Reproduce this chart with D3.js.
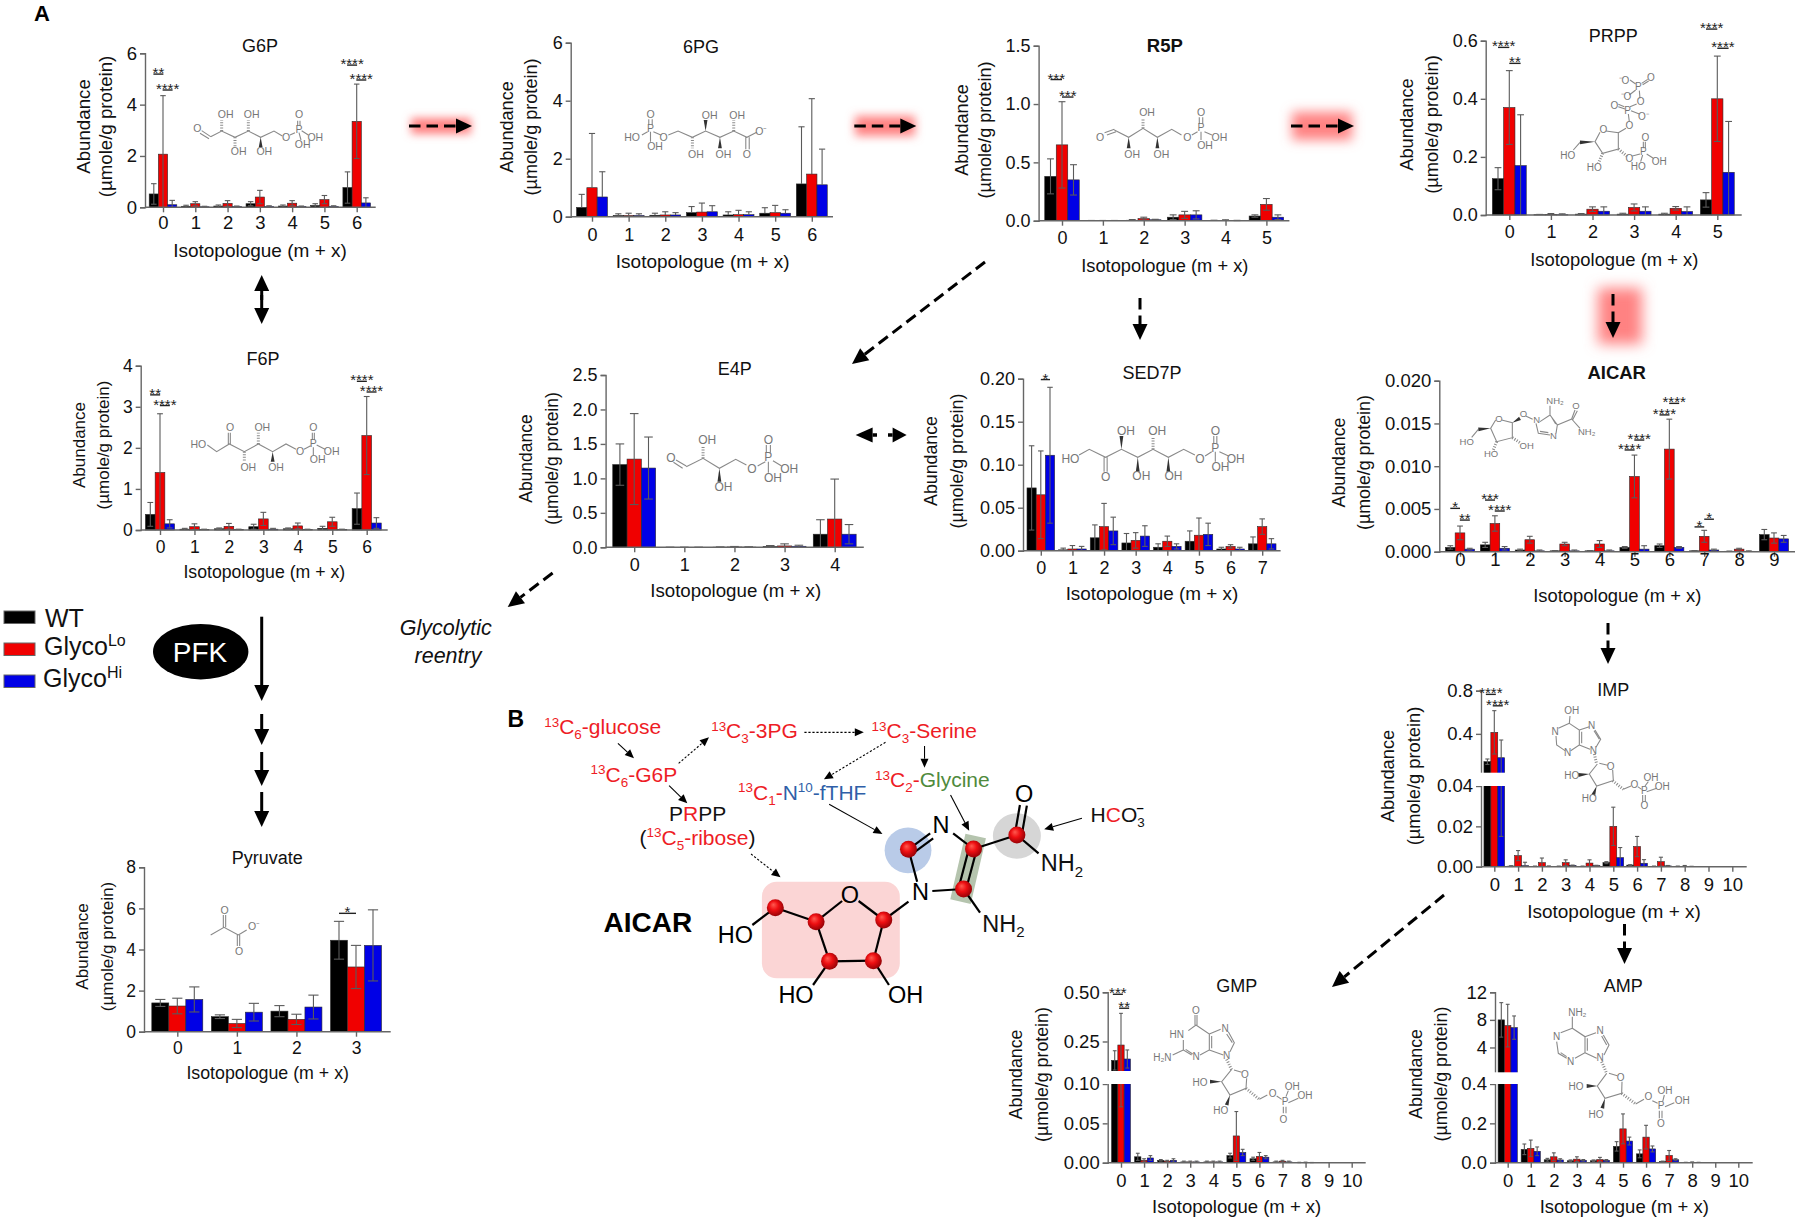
<!DOCTYPE html>
<html><head><meta charset="utf-8">
<script src="https://cdn.jsdelivr.net/npm/d3@7"></script>
<style>html,body{margin:0;padding:0;background:#fff}svg{display:block;font-family:"Liberation Sans",Arial,sans-serif}</style>
</head><body><script>
// ---------- data: value read per isotopologue, and the top of its error bar ----------
const seriesNames=["WT","GlycoLo","GlycoHi"], seriesColors=["#000000","#f00000","#0000e6"];

const g6pCats=["0","1","2","3","4","5","6"], g6pTicks=["0","2","4","6"];
const g6pWT=[.52,.04,.05,.14,.05,.07,.77], g6pLo=[2.07,.14,.15,.4,.16,.3,3.35], g6pHi=[.1,.02,.03,.03,.03,.03,.17];
const g6pWTe=[.92,.08,.09,.22,.09,.14,1.38], g6pLoe=[4.35,.22,.26,.66,.26,.46,4.8], g6pHie=[.27,.04,.05,.06,.05,.06,.37];
const g6pSig=[[0,"wr",5.19,"**"],[0,"rb",4.57,"****"],[6,"wr",5.54,"****"],[6,"rb",4.96,"****"]];

const pg6Cats=["0","1","2","3","4","5","6"], pg6Ticks=["0","2","4","6"];
const pg6WT=[.32,.04,.05,.14,.06,.12,1.13], pg6Lo=[1,.04,.06,.16,.07,.14,1.47], pg6Hi=[.68,.04,.06,.17,.07,.12,1.1];
const pg6WTe=[.77,.1,.12,.35,.17,.31,3.1], pg6Loe=[2.87,.12,.17,.47,.22,.39,4.07], pg6Hie=[1.55,.1,.14,.38,.17,.24,2.33];

const r5pCats=["0","1","2","3","4","5"], r5pTicks=["0.0","0.5","1.0","1.5"];
const r5pWT=[.38,0,.004,.03,.002,.04], r5pLo=[.65,0,.018,.05,.003,.14], r5pHi=[.35,0,.008,.05,.002,.03];
const r5pWTe=[.53,.002,.01,.05,.004,.05], r5pLoe=[1.02,.002,.03,.08,.008,.19], r5pHie=[.48,.002,.012,.085,.003,.05];
const r5pSig=[[0,"wr",1.21,"***"],[0,"rb",1.06,"***"]];

const prppCats=["0","1","2","3","4","5"], prppTicks=["0.0","0.2","0.4","0.6"];
const prppWT=[.125,.001,.003,.003,.003,.052], prppLo=[.37,.002,.02,.026,.023,.4], prppHi=[.17,.001,.013,.013,.012,.147];
const prppWTe=[.163,.002,.005,.006,.006,.077], prppLoe=[.497,.005,.028,.038,.029,.547], prppHie=[.345,.004,.028,.028,.028,.322];
const prppSig=[[0,"wr",.577,"****"],[0,"rb",.522,"**"],[5,"wr",.64,"****"],[5,"rb",.574,"****"]];

const f6pCats=["0","1","2","3","4","5","6"], f6pTicks=["0","1","2","3","4"];
const f6pWT=[.38,.02,.03,.08,.03,.04,.52], f6pLo=[1.4,.08,.09,.27,.1,.2,2.3], f6pHi=[.15,.01,.01,.02,.01,.01,.17];
const f6pWTe=[.67,.04,.05,.14,.05,.09,.9], f6pLoe=[2.83,.15,.16,.43,.17,.31,3.25], f6pHie=[.25,.02,.02,.04,.02,.02,.3];
const f6pSig=[[0,"wr",3.29,"**"],[0,"rb",3.03,"****"],[6,"wr",3.62,"****"],[6,"rb",3.36,"****"]];

const e4pCats=["0","1","2","3","4"], e4pTicks=["0.0","0.5","1.0","1.5","2.0","2.5"];
const e4pWT=[1.2,0,.002,.012,.19], e4pLo=[1.28,0,.005,.02,.41], e4pHi=[1.15,0,.003,.015,.19];
const e4pWTe=[1.5,.002,.006,.025,.4], e4pLoe=[1.94,.002,.012,.05,.99], e4pHie=[1.6,.002,.008,.03,.33];

const sedCats=["0","1","2","3","4","5","6","7"], sedTicks=["0.00","0.05","0.10","0.15","0.20"];
const sedWT=[.073,.001,.015,.009,.004,.011,.002,.008], sedLo=[.065,.002,.028,.012,.011,.018,.005,.028], sedHi=[.111,.002,.023,.017,.005,.019,.002,.008];
const sedWTe=[.122,.003,.03,.02,.008,.023,.004,.016], sedLoe=[.116,.006,.055,.021,.017,.038,.007,.037], sedHie=[.19,.005,.039,.029,.008,.032,.004,.014];
const sedSig=[[0,"rb",.199,"*"]];

const aicCats=["0","1","2","3","4","5","6","7","8","9"], aicTicks=["0.000","0.005","0.010","0.015","0.020"];
const aicWT=[.0005,.0008,.0002,.0001,.0001,.0005,.0007,.0001,.00005,.002], aicLo=[.0022,.0033,.0014,.0009,.0009,.0088,.012,.0018,.0003,.0016], aicHi=[.0003,.0004,.0001,.0001,.0001,.0003,.0005,.0002,.00005,.0015];
const aicWTe=[.0007,.0011,.0003,.0001,.0001,.0006,.0009,.0001,.00005,.0026], aicLoe=[.003,.0042,.0018,.0011,.0013,.0113,.0155,.0025,.0004,.0022], aicHie=[.0004,.0006,.0002,.0002,.0002,.0007,.0006,.0003,.0001,.0019];
const aicSig=[[0,"wr",.00507,"*"],[0,"rb",.0037,"**"],[1,"wr",.00604,"***"],[1,"rb",.00476,"****"],[5,"wr",.0119,"****"],[5,"rb",.01306,"****"],[6,"wr",.016,"****"],[6,"rb",.01735,"****"],[7,"wr",.0029,"*"],[7,"rb",.0038,"*"]];

const impCats=["0","1","2","3","4","5","6","7","8","9","10"], impTicks=["0.00","0.02","0.04","0.4","0.8"];
const impWT=[.142,.0003,.0002,.0002,.0002,.002,.0008,.0002,.0002,0,0], impLo=[.414,.0055,.002,.002,.0018,.02,.01,.0025,.0002,0,0], impHi=[.179,.0005,.0002,.0006,.0005,.0045,.0017,.0004,.0001,0,0];
const impWTe=[.167,.0005,.0003,.0003,.0003,.0025,.001,.0003,.0003,0,0], impLoe=[.615,.008,.0043,.0034,.0034,.0295,.015,.0047,.0006,0,0], impHie=[.343,.0022,.0004,.0008,.0007,.0095,.0035,.0006,.0002,0,0];
const impSig=[[0,"wr",.766,"****"],[0,"rb",.66,"****"]];

const gmpCats=["0","1","2","3","4","5","6","7","8","9","10"], gmpTicks=["0.00","0.05","0.10","0.25","0.50"];
const gmpWT=[.154,.0075,.003,.001,.001,.009,.005,.001,.0003,0,0], gmpLo=[.232,.003,.002,.001,.001,.034,.008,.002,.0004,0,0], gmpHi=[.161,.006,.003,.001,.001,.013,.007,.001,.0002,0,0];
const gmpWTe=[.203,.012,.004,.002,.002,.012,.007,.002,.0005,0,0], gmpLoe=[.393,.005,.003,.002,.002,.065,.013,.003,.0007,0,0], gmpHie=[.207,.009,.005,.002,.002,.017,.009,.002,.0003,0,0];
const gmpSig=[[0,"wr",.49,"***"],[0,"rb",.419,"**"]];

const ampCats=["0","1","2","3","4","5","6","7","8","9","10"], ampTicks=["0.0","0.2","0.4","4","8","12"];
const ampWT=[8,.068,.015,.01,.01,.083,.045,.006,.001,0,0], ampLo=[7.17,.073,.03,.018,.016,.172,.13,.037,.002,0,0], ampHi=[6.88,.058,.014,.012,.012,.11,.07,.015,.001,0,0];
const ampWTe=[10.5,.095,.022,.014,.014,.107,.065,.008,.002,0,0], ampLoe=[10.26,.115,.05,.03,.027,.248,.19,.062,.004,0,0], ampHie=[8.57,.08,.02,.016,.016,.13,.085,.02,.002,0,0];

const pyrCats=["0","1","2","3"], pyrTicks=["0","2","4","6","8"];
const pyrWT=[1.4,.73,1,4.45], pyrLo=[1.25,.4,.6,3.15], pyrHi=[1.57,.95,1.2,4.2];
const pyrWTe=[1.57,.82,1.27,5.37], pyrLoe=[1.63,.6,.85,4.2], pyrHie=[2.18,1.38,1.78,5.93];
const pyrSig=[[3,"wr",5.76,"*"]];

// ---------- layout ----------
const charts=[
 {t:"G6P",c:g6pCats,tk:g6pTicks,v:[g6pWT,g6pLo,g6pHi],e:[g6pWTe,g6pLoe,g6pHie],s:g6pSig,top:6,ax:145,yT:53.3,y0:207.3,xE:375.7,c0:163,cN:356.7,bw:9.2,tx:260,ty:52,lx:[90,111.7],ly:126.5,lf:18.7,xx:260,xy:256.7,xf:19,tb:229,tf:18.5},
 {t:"6PG",c:pg6Cats,tk:pg6Ticks,v:[pg6WT,pg6Lo,pg6Hi],e:[pg6WTe,pg6Loe,pg6Hie],noLow:true,top:6,ax:570.7,yT:42.7,y0:216.7,xE:833,c0:592,cN:811.8,bw:10.3,tx:701,ty:53.3,lx:[513.3,537.4],ly:127,lf:18.1,xx:702.7,xy:267.7,xf:19,tb:240.7,tf:18},
 {t:"R5P",bold:true,c:r5pCats,tk:r5pTicks,v:[r5pWT,r5pLo,r5pHi],e:[r5pWTe,r5pLoe,r5pHie],s:r5pSig,top:1.5,ax:1038.6,yT:45.7,y0:220.7,xE:1289.4,c0:1062,cN:1266.4,bw:11.5,tx:1164.8,ty:51.7,lx:[968,991],ly:130,lf:18.1,xx:1164.8,xy:271.7,xf:18.3,tb:244.3,tf:18},
 {t:"PRPP",c:prppCats,tk:prppTicks,v:[prppWT,prppLo,prppHi],e:[prppWTe,prppLoe,prppHie],s:prppSig,top:.6,ax:1485.7,yT:40.7,y0:215,xE:1741.7,c0:1509.3,cN:1717.3,bw:11.3,tx:1613.3,ty:42.3,lx:[1413.3,1438.3],ly:124.5,lf:18.3,xx:1614.3,xy:266,xf:18.4,tb:238.3,tf:18},
 {t:"F6P",c:f6pCats,tk:f6pTicks,v:[f6pWT,f6pLo,f6pHi],e:[f6pWTe,f6pLoe,f6pHie],s:f6pSig,top:4,ax:140.7,yT:365.7,y0:530,xE:387.7,c0:160,cN:366.7,bw:9.7,tx:263,ty:365,lx:[85,109.3],ly:445,lf:17,xx:264.3,xy:578.3,xf:17.7,tb:552.7,tf:17.5},
 {t:"E4P",c:e4pCats,tk:e4pTicks,v:[e4pWT,e4pLo,e4pHi],e:[e4pWTe,e4pLoe,e4pHie],top:2.5,ax:605.6,yT:375,y0:547.3,xE:863.8,c0:634.2,cN:834.7,bw:14.3,tx:734.7,ty:375,lx:[531.6,557.7],ly:458.5,lf:17.5,xx:735.7,xy:596.7,xf:18.7,tb:570.7,tf:18},
 {t:"SED7P",c:sedCats,tk:sedTicks,v:[sedWT,sedLo,sedHi],e:[sedWTe,sedLoe,sedHie],s:sedSig,top:.2,ax:1023,yT:378.7,y0:550.7,xE:1280.6,c0:1040.8,cN:1262.2,bw:9.2,tx:1152,ty:379.3,lx:[937.2,963.3],ly:461,lf:17.8,xx:1152,xy:600,xf:18.9,tb:574,tf:18},
 {t:"AICAR",bold:true,c:aicCats,tk:aicTicks,v:[aicWT,aicLo,aicHi],e:[aicWTe,aicLoe,aicHie],s:aicSig,top:.02,ax:1439.3,yT:380.7,y0:551.7,xE:1795,c0:1460,cN:1774,bw:9.7,tx:1616.7,ty:379.3,lx:[1345,1370],ly:462.5,lf:17.8,xx:1617.3,xy:601.7,xf:18.4,tb:566,tf:18.5},
 {t:"IMP",c:impCats,tk:impTicks,v:[impWT,impLo,impHi],e:[impWTe,impLoe,impHie],s:impSig,brk:.04,top:.8,ax:1481,yT:690.7,yA:786,yB:772.7,y0:866.7,xE:1746.7,c0:1494.3,cN:1732.3,bw:6.9,tx:1613.3,ty:696,lx:[1394,1420],ly:776,lf:18.3,xx:1614,xy:918.3,xf:19,tb:891,tf:18.5},
 {t:"GMP",c:gmpCats,tk:gmpTicks,v:[gmpWT,gmpLo,gmpHi],e:[gmpWTe,gmpLoe,gmpHie],s:gmpSig,brk:.1,top:.5,ax:1107.7,yT:992.3,yA:1084,yB:1071,y0:1162.7,xE:1365.7,c0:1121,cN:1351.7,bw:6.3,tx:1236.7,ty:992,lx:[1021.7,1047.7],ly:1074.5,lf:17.8,xx:1236.7,xy:1213,xf:18.5,tb:1186.7,tf:18.5},
 {t:"AMP",c:ampCats,tk:ampTicks,v:[ampWT,ampLo,ampHi],e:[ampWTe,ampLoe,ampHie],brk:.4,top:12,ax:1495,yT:992.3,yA:1084,yB:1072.3,y0:1162.7,xE:1752.7,c0:1507.7,cN:1738.3,bw:6.4,tx:1623.3,ty:991.7,lx:[1421.7,1447.3],ly:1074,lf:17.8,xx:1624.3,xy:1213,xf:18.5,tb:1186.7,tf:18.5},
 {t:"Pyruvate",c:pyrCats,tk:pyrTicks,v:[pyrWT,pyrLo,pyrHi],e:[pyrWTe,pyrLoe,pyrHie],s:pyrSig,top:8,ax:144,yT:867.3,y0:1031.7,xE:390.7,c0:177.3,cN:356,bw:17,tx:267.3,ty:864.3,lx:[88.3,113.3],ly:946.5,lf:17.1,xx:267.7,xy:1079.3,xf:17.8,tb:1054,tf:17.5}
];

const svg=d3.select("body").append("svg").attr("width",1800).attr("height",1217).attr("viewBox","0 0 1800 1217");
const defs=svg.append("defs");
[4,5,6,7].forEach(s=>defs.append("filter").attr("id","blur"+s).attr("x","-50%").attr("y","-80%").attr("width","200%").attr("height","260%").append("feGaussianBlur").attr("stdDeviation",s));
const rg=defs.append("radialGradient").attr("id","atom").attr("cx",".45").attr("cy",".45").attr("r",".6").attr("fx",".38").attr("fy",".32");
[["0%","#ff5a50"],["45%","#ee0f12"],["100%","#8c0005"]].forEach(d=>rg.append("stop").attr("offset",d[0]).attr("stop-color",d[1]));

function text(x,y,s,o={}){return svg.append("text").attr("x",x).attr("y",y).attr("font-size",o.size||18).attr("text-anchor",o.anchor||"start").attr("fill",o.fill||"#111").attr("font-weight",o.weight||null).attr("font-style",o.fstyle||null).text(s);}
function rich(x,y,size,segs,anchor){
  const t=svg.append("text").attr("x",x).attr("y",y).attr("font-size",size).attr("text-anchor",anchor||"start");
  let prev=0;
  segs.forEach(([s,c,m])=>{const off=m==="sup"?-.36:m==="sub"?.24:0;
    t.append("tspan").attr("dy",(off-prev)*size).attr("fill",c||"#111").attr("font-size",m?size*.64:size).text(s);prev=off;});
  return t;
}
function arrow(x1,y1,x2,y2,o={}){
  const L=o.L||16,W=o.W||15,a=Math.atan2(y2-y1,x2-x1),cx=Math.cos(a),sy=Math.sin(a),bx=x2-cx*L,by=y2-sy*L;
  svg.append("line").attr("x1",x1).attr("y1",y1).attr("x2",bx).attr("y2",by).attr("stroke","#000").attr("stroke-width",o.w||3).attr("stroke-dasharray",o.dash||null);
  svg.append("polygon").attr("fill","#000").attr("points",[[x2,y2],[bx-sy*W/2,by+cx*W/2],[bx+sy*W/2,by-cx*W/2]].map(p=>p.join(",")).join(" "));
}
function glow(x,y,w,h,s){svg.append("rect").attr("x",x).attr("y",y).attr("width",w).attr("height",h).attr("fill","#ff8282").attr("filter","url(#blur"+s+")");}

// ---------- glows behind the pathway arrows ----------
glow(411,118,60,16,4);glow(855,116,60,20,5);glow(1292,112,60,28,6);glow(1598,288,44,56,7);

// ---------- charts ----------
charts.forEach(c=>{
  const x=d3.scalePoint().domain(c.c).range([c.c0,c.cN]);
  const y=c.brk?d3.scaleLinear().domain([0,c.brk,c.brk*1.0001,c.top]).range([c.y0,c.yA,c.yB,c.yT])
               :d3.scaleLinear().domain([0,c.top]).range([c.y0,c.yT]);
  const g=svg.append("g");
  // bars
  c.v.forEach((vals,si)=>{
    g.append("g").selectAll("rect").data(vals).join("rect")
     .attr("x",(d,i)=>x(c.c[i])+(si-1.5)*c.bw).attr("width",c.bw)
     .attr("y",d=>y(d)).attr("height",d=>Math.max(0,c.y0-y(d)))
     .attr("fill",seriesColors[si]).attr("stroke","#2a2a2a").attr("stroke-width",.6);
  });
  // error bars
  c.e.forEach((tops,si)=>{
    const eg=g.append("g").attr("stroke","#5a5a5a").attr("stroke-width",1.1).attr("fill","none");
    tops.forEach((hi,i)=>{
      const v=c.v[si][i]; if(hi<=0) return;
      const cx=x(c.c[i])+(si-1)*c.bw, cap=c.bw*.3, lo=Math.max(0,2*v-hi);
      eg.append("line").attr("x1",cx).attr("x2",cx).attr("y1",y(hi)).attr("y2",c.noLow?y(v):y(lo));
      eg.append("line").attr("x1",cx-cap).attr("x2",cx+cap).attr("y1",y(hi)).attr("y2",y(hi));
      if(!c.noLow&&lo>0) eg.append("line").attr("x1",cx-cap).attr("x2",cx+cap).attr("y1",y(lo)).attr("y2",y(lo));
    });
  });
  // axes
  const ya=g.append("g").attr("transform",`translate(${c.ax},0)`)
    .call(d3.axisLeft(y).tickValues(c.tk.map(Number)).tickFormat((d,i)=>c.tk[i]).tickSize(5).tickPadding(3));
  const xa=g.append("g").attr("transform",`translate(0,${c.y0})`)
    .call(d3.axisBottom(x).tickSize(5));
  xa.select(".domain").attr("d",`M${c.ax},0H${c.xE}`);
  [ya,xa].forEach(a=>{a.attr("font-family",null).attr("font-size",null);
    a.selectAll("path,line").attr("stroke","#666").attr("stroke-width",1.4);
    a.selectAll("text").attr("font-size",c.tf).attr("fill","#111");});
  xa.selectAll("text").attr("y",c.tb-c.y0).attr("dy",0);
  // white axis break
  if(c.brk) g.append("rect").attr("x",c.ax-5).attr("width",c.c0+1.5*c.bw+1-(c.ax-5)).attr("y",y(c.brk*1.0001)).attr("height",y(c.brk)-y(c.brk*1.0001)).attr("fill","#fff");
  // significance
  (c.s||[]).forEach(([ci,kind,val,stars])=>{
    const cx=x(c.c[ci]), a=kind==="wr"?cx-c.bw:cx, b=kind==="wr"?cx:cx+c.bw, ly=y(val), w=Math.max(b-a,stars.length>1?10:7.5);
    const m=(a+b)/2;
    g.append("line").attr("x1",m-w/2).attr("x2",m+w/2).attr("y1",ly).attr("y2",ly).attr("stroke","#222").attr("stroke-width",1.4);
    g.append("text").attr("x",m).attr("y",ly+4).attr("text-anchor","middle").attr("font-size",15).attr("fill","#222").text(stars);
  });
  // labels
  text(c.tx,c.ty,c.t,{size:c.bold?18.5:18,anchor:"middle",weight:c.bold?"bold":null});
  text(c.xx,c.xy,"Isotopologue (m + x)",{size:c.xf,anchor:"middle"});
  text(0,0,"Abundance",{size:c.lf,anchor:"middle"}).attr("transform",`translate(${c.lx[0]},${c.ly}) rotate(-90)`);
  text(0,0,"(µmole/g protein)",{size:c.lf,anchor:"middle"}).attr("transform",`translate(${c.lx[1]},${c.ly}) rotate(-90)`);
});

// ---------- skeletal structures drawn in grey ----------
function struct(s){
  const X=v=>s.ox+v*s.kx, Y=v=>s.oy+v*s.ky, col="#8a8a8a", g=svg.append("g");
  let d="",cx0=0;
  for(const m of s.p.matchAll(/([MLV])\s*([\d.]+)(?:\s+([\d.]+))?/g)){
    if(m[1]==="V"){d+="L"+cx0+" "+Y(+m[2]);}
    else{cx0=X(+m[2]);d+=m[1]+cx0+" "+Y(+m[3]);}
  }
  g.append("path").attr("d",d).attr("fill","none").attr("stroke",col).attr("stroke-width",1.1);
  (s.h||[]).forEach(([a,b,c,e])=>g.append("line").attr("x1",X(a)).attr("y1",Y(b)).attr("x2",X(c)).attr("y2",Y(e)).attr("stroke",col).attr("stroke-width",3).attr("stroke-dasharray","1 1.6"));
  (s.w||[]).forEach(([a,b,c,e])=>{const x1=X(a),y1=Y(b),x2=X(c),y2=Y(e),t=Math.atan2(y2-y1,x2-x1),nx=-Math.sin(t)*1.9,ny=Math.cos(t)*1.9;
    g.append("polygon").attr("points",`${x1},${y1} ${x2+nx},${y2+ny} ${x2-nx},${y2-ny}`).attr("fill","#333");});
  s.l.forEach(([a,b,t])=>g.append("text").attr("x",X(a)).attr("y",Y(b)).attr("dy",".36em").attr("text-anchor","middle").attr("font-size",s.f).attr("fill","#777").text(t));
}
const k3=1/3,k17=1/1.742,k19=1/1.96;
const structures=[
 {ox:0,oy:0,kx:k3,ky:k3,f:10.5,p:"M605 392 L632 410 M600 400 L627 416 M632 410 L665 393 L705 412 L745 393 L782 412 L822 393 L847 408 M870 405 L885 398 M893 362 V378 M900 362 V378 M905 392 L925 405 M897 398 L903 420",
  h:[[665,393,665,360],[705,412,705,442],[745,393,745,360]],w:[[782,412,782,442]],l:[[592,385,"O"],[677,344,"OH"],[755,344,"OH"],[716,455,"OH"],[793,455,"OH"],[858,412,"O"],[897,388,"P"],[897,344,"O"],[946,412,"OH"],[908,432,"OH"]]},
 {ox:480,oy:0,kx:k17,ky:k3,f:10.5,p:"M282 405 L292 395 M302 395 L315 405 M294 358 V375 M300 358 V375 M297 395 V425 M328 405 L345 393 L370 412 L393 393 L418 412 L442 393 L465 412 L482 397 M463 412 V448 M469 412 V448",
  h:[[370,412,370,445],[442,393,442,360]],w:[[393,393,393,360],[418,412,418,445]],l:[[265,413,"HO"],[320,413,"O"],[297,385,"P"],[297,343,"O"],[305,440,"OH"],[400,345,"OH"],[448,345,"OH"],[376,462,"OH"],[424,462,"OH"],[465,462,"O"],[490,393,"O⁻"]]},
 {ox:480,oy:0,kx:k17,ky:k3,f:10.5,p:"M1088 398 L1105 388 M1092 405 L1108 395 M1105 390 L1130 412 L1155 385 L1180 412 L1205 388 L1222 405 M1240 405 L1250 395 M1253 352 V372 M1259 352 V372 M1262 395 L1275 405 M1256 395 V420",
  h:[[1155,385,1155,355]],w:[[1130,412,1130,445],[1180,412,1180,445]],l:[[1080,413,"O"],[1162,338,"OH"],[1136,462,"OH"],[1187,462,"OH"],[1232,413,"O"],[1256,382,"P"],[1256,337,"O"],[1288,413,"OH"],[1263,437,"OH"]]},
 {ox:1370,oy:0,kx:k3,ky:k3,f:10,p:"M708 393 L745 398 L745 447 L698 460 L675 425 L690 397 M745 398 L768 385 M778 365 L775 342 M780 320 L800 312 M783 332 L808 342 M745 320 L765 327 M745 313 L763 320 M810 295 L808 272 M778 285 L797 270 M780 240 L797 252 M815 250 L833 238 M818 254 L836 243 M787 468 L810 462 M820 425 V445 M826 425 V445 M830 462 L850 475 M818 465 L812 485 M630 427 L610 450",
  h:[[745,447,770,468],[698,460,685,490]],w:[[675,425,630,427]],l:[[762,240,"⁻O"],[843,232,"O"],[805,260,"P"],[768,288,"⁻O"],[812,305,"O"],[733,315,"O"],[773,330,"P"],[820,348,"O⁻"],[778,377,"O"],[700,388,"O"],[593,465,"HO"],[673,503,"HO"],[778,475,"O"],[820,455,"P"],[826,412,"O"],[805,500,"HO"],[868,483,"OH"]]},
 {ox:0,oy:330,kx:k3,ky:k3,f:10.5,p:"M622 345 L650 365 L688 342 L733 365 L775 342 L818 365 L858 342 L888 358 M685 342 V308 M691 342 V308 M912 358 L932 347 M937 308 V330 M943 308 V330 M950 345 L975 358 M940 352 V375",
  h:[[733,365,733,395],[775,342,775,308]],w:[[818,365,818,395]],l:[[595,342,"HO"],[690,292,"O"],[787,292,"OH"],[745,412,"OH"],[828,412,"OH"],[900,365,"O"],[940,340,"P"],[940,292,"O"],[995,365,"OH"],[953,388,"OH"]]},
 {ox:500,oy:340,kx:k19,ky:k3,f:12,p:"M345 360 L365 378 M340 367 L358 385 M365 380 L398 355 L430 385 L462 358 L483 375 M505 378 L520 365 M522 315 V338 M530 315 V338 M535 362 L552 378 M526 365 V398",
  h:[[398,355,398,318]],w:[[430,385,430,425]],l:[[335,352,"O"],[406,300,"OH"],[438,440,"OH"],[494,385,"O"],[526,350,"P"],[526,300,"O"],[567,387,"OH"],[535,412,"OH"]]},
 {ox:500,oy:340,kx:k19,ky:k3,f:12,p:"M1135 345 L1155 328 L1187 352 L1218 328 L1250 352 L1280 328 L1310 352 L1340 328 L1362 345 M1184 352 V395 M1190 352 V395 M1382 348 L1395 335 M1399 288 V310 M1405 288 V310 M1410 335 L1428 348 M1402 335 V365",
  h:[[1280,328,1280,290]],w:[[1218,328,1218,288],[1250,352,1250,395],[1310,352,1310,395]],l:[[1118,356,"HO"],[1187,410,"O"],[1227,272,"OH"],[1288,272,"OH"],[1257,408,"OH"],[1320,408,"OH"],[1372,356,"O"],[1402,322,"P"],[1402,272,"O"],[1442,356,"OH"],[1412,380,"OH"]]},
 {ox:1320,oy:340,kx:k3,ky:k3,f:9.5,p:"M545 240 L577 248 L577 293 L530 305 L512 265 L527 240 M475 268 L455 292 M617 228 L638 238 M660 245 L690 225 L712 255 L708 280 M690 285 L655 280 L648 250 M690 225 V197 M712 255 L755 237 L765 210 M758 239 L772 212 M755 237 L780 265 M695 232 L707 252 M660 274 L685 278",
  h:[[577,293,600,308],[530,305,520,330]],w:[[577,248,600,235],[512,265,475,268]],l:[[705,183,"NH₂"],[768,198,"O"],[800,275,"NH₂"],[650,240,"N"],[700,288,"N"],[610,222,"O"],[537,235,"O"],[440,305,"HO"],[620,317,"OH"],[513,342,"HO"]]},
 {ox:1340,oy:660,kx:k3,ky:k3,f:10,p:"M688 190 L690 168 M688 190 L718 210 L718 255 L692 272 M675 272 L650 255 L648 228 M655 205 L688 190 M718 210 L748 200 M765 210 L782 238 L768 262 M750 268 L718 255 M725 215 V250 M778 238 L762 212 M778 310 L803 316 M818 330 L820 362 M818 362 L770 378 L748 342 L772 312 M850 388 L873 378 M893 380 L905 388 M915 378 L925 365 M920 395 L950 385 M908 405 V425 M916 405 V425",
  h:[[763,282,770,312],[818,362,850,388]],w:[[748,342,715,345],[770,378,760,405]],l:[[695,152,"OH"],[645,215,"N"],[683,278,"N"],[755,197,"N"],[760,270,"N"],[812,320,"O"],[695,345,"HO"],[748,415,"HO"],[883,373,"O"],[933,353,"OH"],[967,378,"OH"],[913,392,"P"],[913,437,"O"]]},
 {ox:980,oy:960,kx:k3,ky:k3,f:10,p:"M645 165 V195 M651 165 V195 M648 195 L688 222 L688 270 L660 285 M635 285 L610 270 L610 240 M625 212 L648 195 M610 270 L578 285 M688 222 L722 208 M745 215 L763 248 L750 275 M730 285 L688 270 M695 228 V265 M757 248 L740 222 M617 268 L638 282 M762 330 L785 337 M800 355 L798 385 L750 405 L725 365 L755 328 M838 418 L862 405 M890 408 L905 418 M918 410 L925 392 M925 428 L955 415 M910 440 V460 M918 440 V460",
  h:[[740,298,755,330],[798,385,838,418]],w:[[725,365,690,365],[750,405,740,435]],l:[[648,150,"O"],[590,222,"HN"],[648,290,"N"],[547,292,"H₂N"],[735,205,"N"],[740,285,"N"],[795,342,"O"],[660,367,"HO"],[722,450,"HO"],[878,400,"O"],[937,378,"OH"],[975,407,"OH"],[915,425,"P"],[910,477,"O"]]},
 {ox:1390,oy:960,kx:k3,ky:k3,f:10,p:"M547 170 V205 M547 205 L585 230 L585 278 L555 295 M530 295 L505 280 L500 245 M512 218 L547 205 M585 230 L618 218 M640 225 L657 255 L642 285 M620 295 L585 278 M592 235 V272 M650 255 L635 228 M512 278 L530 290 M657 340 L682 347 M696 365 L695 400 L645 415 L622 378 L650 340 M737 432 L762 418 M787 422 L803 430 M818 425 L823 405 M825 440 L853 428 M808 452 V475 M816 452 V475",
  h:[[635,305,650,340],[695,400,737,432]],w:[[622,378,590,378],[645,415,637,445]],l:[[562,157,"NH₂"],[500,228,"N"],[542,303,"N"],[630,212,"N"],[630,292,"N"],[692,352,"O"],[558,378,"HO"],[618,463,"HO"],[775,410,"O"],[825,390,"OH"],[877,420,"OH"],[813,437,"P"],[813,490,"O"]]},
 {ox:50,oy:840,kx:k3,ky:k3,f:10.5,p:"M482 285 L522 262 L565 285 M520 262 V225 M527 262 V225 M565 285 L590 270 M562 285 V318 M569 285 V318",
  l:[[524,210,"O"],[612,260,"O⁻"],[567,335,"O"]]}
];
structures.forEach(struct);

// ---------- pathway arrows ----------
const dash="11.5 6";
arrow(409,126,472,126,{dash});arrow(854.3,126,916.3,126,{dash});arrow(1291,126,1354,126,{dash});arrow(1613,294,1613,338,{dash});
arrow(985,262,852,364,{dash});arrow(1140,298,1140,340,{dash});
arrow(552.6,573,507.7,607,{dash});
arrow(1608,623,1608,664,{dash});arrow(1624.5,924,1624.5,964,{dash});arrow(1444,895,1332,987,{dash});
arrow(877,435,855.6,435,{L:17,W:15,w:3.5});arrow(888,435,906.6,435,{L:14,W:15,w:3.5});
arrow(261.7,300,261.7,275,{w:3});arrow(261.7,295,261.7,324,{w:3});
arrow(261.7,616.7,261.7,701,{w:3});arrow(261.7,714,261.7,745,{w:3});arrow(261.7,752,261.7,786,{w:3});arrow(261.7,792,261.7,827,{w:3});

// ---------- legend, PFK, labels ----------
const legendY=[611,643,675];
seriesNames.forEach((n,i)=>svg.append("rect").attr("x",4).attr("y",legendY[i]).attr("width",31).attr("height",12.5).attr("fill",seriesColors[i]).attr("stroke","#666").attr("stroke-width",1));
text(45,626.7,"WT",{size:25});
rich(44,655,25,[["Glyco"],["Lo",null,"sup"]]);
rich(43,686.7,25,[["Glyco"],["Hi",null,"sup"]]);
svg.append("ellipse").attr("cx",200.7).attr("cy",651.7).attr("rx",47.7).attr("ry",27.7).attr("fill","#000");
text(200,661.5,"PFK",{size:28,anchor:"middle",fill:"#fff"});
text(445.7,635,"Glycolytic",{size:21.5,anchor:"middle",fstyle:"italic"});
text(448,663,"reentry",{size:21.5,anchor:"middle",fstyle:"italic"});
text(34,20.5,"A",{size:22,weight:"bold",fill:"#000"});
text(507.5,726.7,"B",{size:23,weight:"bold",fill:"#000"});

// ---------- panel B ----------
const R="#ee1c25",GR="#4f8a3c",BL="#2f5fa8",bx=v=>490+v/2.306,by=v=>690+v/3,FS=21;
rich(bx(125),by(133),FS,[["13",R,"sup"],["C",R],["6",R,"sub"],["-glucose",R]]);
rich(bx(510),by(145),FS,[["13",R,"sup"],["C",R],["3",R,"sub"],["-3PG",R]]);
rich(bx(880),by(145),FS,[["13",R,"sup"],["C",R],["3",R,"sub"],["-Serine",R]]);
rich(bx(232),by(275),FS,[["13",R,"sup"],["C",R],["6",R,"sub"],["-G6P",R]]);
rich(bx(888),by(292),FS,[["13",R,"sup"],["C",R],["2",R,"sub"],["-",R],["Glycine",GR]]);
rich(bx(572),by(330),FS,[["13",R,"sup"],["C",R],["1",R,"sub"],["-",R],["N",BL],["10",BL,"sup"],["-fTHF",BL]]);
rich(bx(413),by(392),FS,[["P"],["R",R],["PP"]]);
rich(bx(345),by(465),FS,[["("],["13",R,"sup"],["C",R],["5",R,"sub"],["-ribose",R],[")"]]);
text(bx(262),by(725),"AICAR",{size:28,weight:"bold",fill:"#000"});
rich(bx(1385),by(395),21,[["H"],["C",R],["O"],["3",null,"sub"]]);
text(bx(1499),by(366),"–",{size:13,weight:"bold",fill:"#000",anchor:"middle"});

const thin={w:1.1,L:9,W:8}, dotted={w:1.1,L:9,W:8,dash:"2.2 1.8"};
arrow(bx(295),by(160),bx(332),by(205),thin);
arrow(bx(435),by(220),bx(505),by(142),dotted);
arrow(bx(725),by(127),bx(862),by(127),dotted);
arrow(bx(912),by(157),bx(770),by(268),dotted);
arrow(bx(1002),by(168),bx(1002),by(233),thin);
arrow(bx(413),by(287),bx(455),by(340),thin);
arrow(bx(782),by(343),bx(905),by(432),thin);
arrow(bx(1062),by(315),bx(1105),by(422),thin);
arrow(bx(1365),by(385),bx(1278),by(418),thin);
arrow(bx(602),by(492),bx(670),by(562),dotted);

// AICAR molecule
svg.append("rect").attr("x",bx(627)).attr("y",by(575)).attr("width",(945-627)/2.306).attr("height",(865-575)/3).attr("rx",15).attr("fill","#fbd5d5");
svg.append("ellipse").attr("cx",bx(964)).attr("cy",by(481)).attr("rx",23.4).attr("ry",22.8).attr("fill","#b9cbe8");
svg.append("line").attr("x1",bx(1120)).attr("y1",by(438)).attr("x2",bx(1085)).attr("y2",by(635)).attr("stroke","#b5c4ae").attr("stroke-width",21);
svg.append("ellipse").attr("cx",bx(1215)).attr("cy",by(438)).attr("rx",24).attr("ry",22.7).attr("fill","#d6d6d6");
const atoms=[[658,653],[752,695],[908,690],[884,812],[783,814],[965,478],[1115,477],[1092,597],[1215,435]];
const bonds=[[605,705,658,653],[658,653,752,695],[752,695,812,633],[850,633,908,690],[908,690,884,812],[884,812,783,814],[783,814,752,695],
 [783,814,745,885],[884,812,920,885],[908,690,965,635],[985,575,965,478],[965,478,1015,430],[975,490,1022,445],[1068,430,1115,477],
 [1104,478,1080,597],[1122,480,1098,597],[1092,597,1020,603],[1092,597,1130,668],[1115,477,1215,435],[1210,435,1222,345],[1226,437,1238,347],[1215,435,1265,490]];
svg.append("g").selectAll("line").data(bonds).join("line").attr("x1",d=>bx(d[0])).attr("y1",d=>by(d[1])).attr("x2",d=>bx(d[2])).attr("y2",d=>by(d[3])).attr("stroke","#000").attr("stroke-width",2.2);
svg.append("g").selectAll("circle").data(atoms).join("circle").attr("cx",d=>bx(d[0])).attr("cy",d=>by(d[1])).attr("r",8.5).attr("fill","url(#atom)");
[[830,640,"O"],[993,630,"N"],[1040,430,"N"],[1232,335,"O"]].forEach(d=>text(bx(d[0]),by(d[1]),d[2],{size:23.5,anchor:"middle",fill:"#000"}));
rich(bx(1270),by(543),23.5,[["NH"],["2",null,"sub"]]);
rich(bx(1135),by(725),23.5,[["NH"],["2",null,"sub"]]);
text(bx(525),by(760),"HO",{size:23.5,fill:"#000"});
text(bx(665),by(940),"HO",{size:23.5,fill:"#000"});
text(bx(918),by(940),"OH",{size:23.5,fill:"#000"});
</script></body></html>
